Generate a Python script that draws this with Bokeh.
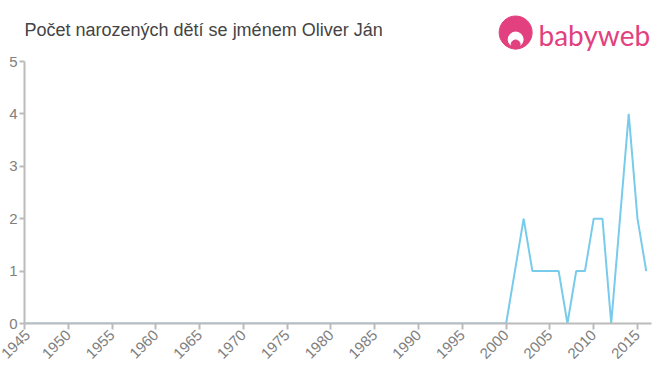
from bokeh.plotting import figure
from bokeh.layouts import column
from bokeh.models import Range1d, Label, FixedTicker
from bokeh.embed import file_html
from bokeh.resources import INLINE

years = list(range(1945, 2017))
counts_2000_on = [0, 1, 2, 1, 1, 1, 1, 0, 1, 1, 2, 2, 0, 2, 4, 2, 1]
counts = [0] * (2000 - 1945) + counts_2000_on
x_ticks = list(range(1945, 2016, 5))
y_ticks = [0, 1, 2, 3, 4, 5]
title_text = "Počet narozených dětí se jménem Oliver Ján"
logo_text = "babyweb"

FONT = "Liberation Sans"
PINK = "#e2407e"

# header strip with title and logo
H = 53
head = figure(width=660, height=H, output_backend="svg", toolbar_location=None,
              x_range=Range1d(0, 660), y_range=Range1d(0, H),
              min_border=0, x_axis_type=None, y_axis_type=None)
head.outline_line_color = None
head.grid.grid_line_color = None
head.add_layout(Label(x=0, y=H - 29, x_units="screen", y_units="screen", text=title_text,
                      text_font=FONT, text_font_size="18px", text_color="#444444",
                      text_baseline="alphabetic"))
head.add_layout(Label(x=514, y=H - 34, x_units="screen", y_units="screen", text=logo_text,
                      text_font="Lato", text_font_size="28px", text_color=PINK,
                      text_baseline="alphabetic"))
# logo icon
head.scatter([517], [H - 32], size=33, color=PINK, marker="circle")
head.scatter([517], [H - 39], size=15, color="white", marker="circle")
head.scatter([517], [H - 44], size=9, color=PINK, marker="circle")

p = figure(width=660, height=375 - H, output_backend="svg", toolbar_location=None,
           x_range=Range1d(1945, 2016.6), y_range=Range1d(0, 5),
           min_border_left=24, min_border_right=9, min_border_top=8, min_border_bottom=52)
p.outline_line_color = None
p.grid.grid_line_color = None

p.line(years, counts, line_color="#78cbea", line_width=2)

p.xaxis.ticker = FixedTicker(ticks=x_ticks)
p.yaxis.ticker = FixedTicker(ticks=y_ticks)
for ax in (p.xaxis[0], p.yaxis[0]):
    ax.axis_line_color = "#bbbbbb"
    ax.axis_line_width = 2
    ax.major_tick_line_color = "#bbbbbb"
    ax.major_tick_line_width = 2
    ax.minor_tick_line_color = None
    ax.major_tick_in = 0
    ax.major_label_text_color = "#808080"
    ax.major_label_text_font = FONT
    ax.major_label_text_font_size = "15px"
p.xaxis.major_tick_out = 6
p.yaxis.major_tick_out = 5
p.yaxis.major_label_standoff = 2
p.xaxis.major_label_orientation = 0.785
p.xaxis.major_label_standoff = 3

open("out.html", "w").write(file_html(column(head, p, spacing=0), INLINE))
